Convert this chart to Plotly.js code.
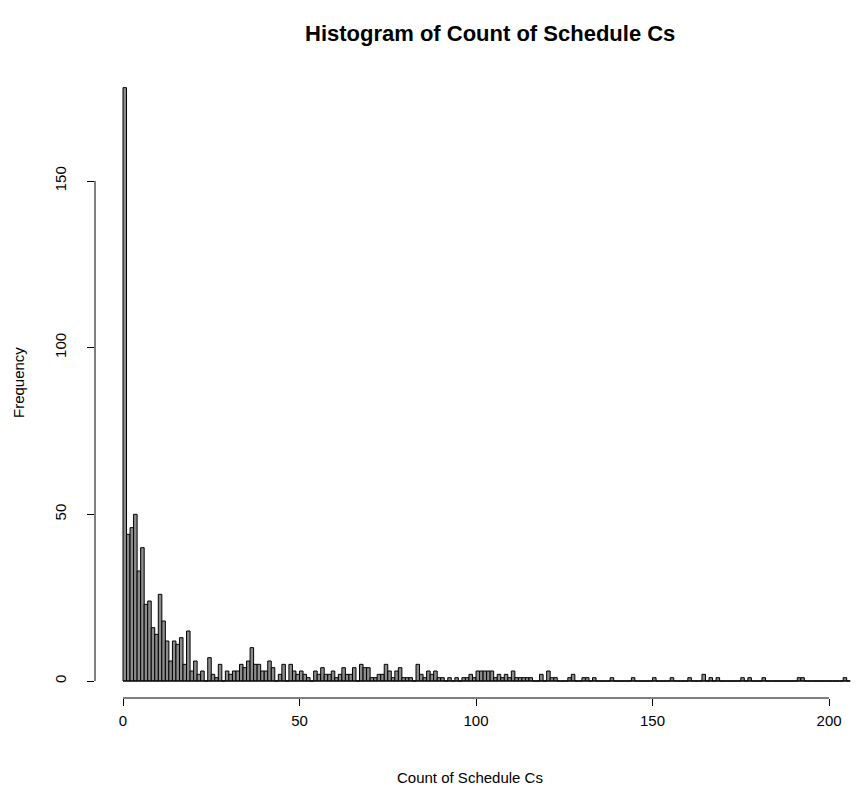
<!DOCTYPE html>
<html>
<head>
<meta charset="utf-8">
<script src="https://cdn.plot.ly/plotly-3.0.1.min.js"></script>
<style>html,body{margin:0;padding:0;background:#fff;}#chart{width:866px;height:789px;}</style>
</head>
<body>
<div id="chart"></div>
<script>
// Histogram bin counts, one per unit-width bin starting at 0
var binWidth = 1;
var binStart = 0;
var counts = [
  178, 44, 46, 50, 33, 40, 23, 24, 16, 14,
   26, 18, 12,  6, 12, 11, 13,  5, 15,  3,
    6,  2,  3,  0,  7,  2,  1,  5,  0,  3,
    2,  3,  3,  5,  4,  6, 10,  5,  5,  3,
    3,  6,  4,  0,  2,  5,  0,  5,  3,  2,
    3,  2,  1,  0,  3,  2,  4,  2,  2,  3,
    1,  2,  4,  2,  2,  4,  0,  5,  4,  4,
    1,  1,  2,  2,  5,  3,  1,  3,  4,  1,
    1,  1,  0,  5,  2,  1,  3,  2,  3,  1,
    1,  0,  1,  0,  1,  0,  1,  1,  2,  1,
    3,  3,  3,  3,  3,  1,  2,  1,  2,  1,
    3,  1,  1,  1,  1,  1,  0,  0,  2,  0,
    3,  1,  1,  0,  0,  0,  1,  2,  0,  0,
    1,  1,  0,  1,  0,  0,  0,  0,  1,  0,
    0,  0,  0,  0,  1,  0,  0,  0,  0,  0,
    1,  0,  0,  0,  0,  1,  0,  0,  0,  0,
    1,  0,  0,  0,  2,  0,  1,  0,  1,  0,
    0,  0,  0,  0,  0,  1,  0,  1,  0,  0,
    0,  1,  0,  0,  0,  0,  0,  0,  0,  0,
    0,  1,  1,  0,  0,  0,  0,  0,  0,  0,
    0,  0,  0,  0,  1,  0
];
var xTicks = [0, 50, 100, 150, 200];
var yTicks = [0, 50, 100, 150];
var titleText = "Histogram of Count of Schedule Cs";
var xTitle = "Count of Schedule Cs";
var yTitle = "Frequency";

var centers = counts.map(function (c, i) { return binStart + (i + 0.5) * binWidth; });
var binEnd = binStart + counts.length * binWidth;

var FONT = "Liberation Sans, Arial, Helvetica, sans-serif";

var trace = {
  type: "bar",
  x: centers,
  y: counts,
  width: binWidth,
  marker: { color: "#8c8c8c", line: { color: "#000", width: 1 } },
  hoverinfo: "x+y"
};

var W = 866, H = 789;
var L = 95, R = 8, T = 64, B = 91;
var plotW = W - L - R, plotH = H - T - B;
function px2x(p) { return (p - L) / plotW; }
function py2y(p) { return (H - B - p) / plotH; }

var layout = {
  width: W, height: H,
  paper_bgcolor: "#fff", plot_bgcolor: "#fff",
  margin: { l: L, r: R, t: T, b: B, pad: 0 },
  showlegend: false,
  bargap: 0,
  font: { family: FONT, size: 15, color: "#000" },
  xaxis: {
    range: [-7.93, 208.2],
    tickvals: xTicks, ticktext: xTicks.map(String),
    ticks: "outside", ticklen: 7, tickwidth: 1, tickcolor: "#000",
    showline: false, showgrid: false, zeroline: false,
    tickfont: { family: FONT, size: 15, color: "#000" },
    ticklabelstandoff: 2,
    automargin: false, fixedrange: true
  },
  yaxis: {
    range: [-5.1, 185.1],
    tickvals: yTicks, ticktext: yTicks.map(String),
    ticks: "outside", ticklen: 7, tickwidth: 1, tickcolor: "#000",
    tickangle: -90,
    showline: false, showgrid: false, zeroline: false,
    tickfont: { family: FONT, size: 15, color: "#000" },
    ticklabelstandoff: 15,
    automargin: false, fixedrange: true
  },
  shapes: [
    { type: "line", xref: "x", yref: "paper", x0: xTicks[0], x1: xTicks[xTicks.length - 1], y0: 0, y1: 0, line: { color: "#000", width: 1 } },
    { type: "line", xref: "paper", yref: "y", x0: 0, x1: 0, y0: yTicks[0], y1: yTicks[yTicks.length - 1], line: { color: "#000", width: 1 } },
    { type: "line", xref: "x", yref: "y", x0: binStart, x1: binEnd, y0: 0, y1: 0, line: { color: "#000", width: 1 }, layer: "above" }
  ],
  annotations: [
    { text: "<b>" + titleText + "</b>", xref: "paper", yref: "paper", x: px2x(490), y: py2y(33), xanchor: "center", yanchor: "middle", showarrow: false, font: { family: FONT, size: 22, color: "#000" } },
    { text: xTitle, xref: "paper", yref: "paper", x: px2x(470), y: py2y(777), xanchor: "center", yanchor: "middle", showarrow: false, font: { family: FONT, size: 15, color: "#000" } },
    { text: yTitle, xref: "paper", yref: "paper", x: px2x(18), y: py2y(383), xanchor: "center", yanchor: "middle", textangle: -90, showarrow: false, font: { family: FONT, size: 15, color: "#000" } }
  ]
};

Plotly.newPlot("chart", [trace], layout, { displayModeBar: false, staticPlot: true });
</script>
</body>
</html>
